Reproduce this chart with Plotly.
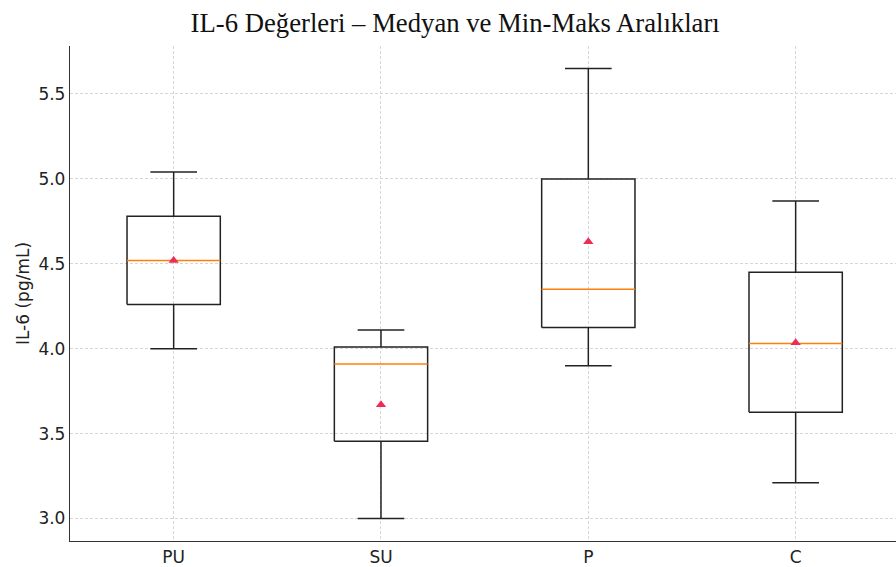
import plotly.graph_objects as go

groups = ["PU", "SU", "P", "C"]
positions = [1, 2, 3, 4]
mins = [4.00, 3.00, 3.90, 3.21]
q1s = [4.26, 3.455, 4.125, 3.625]
medians = [4.52, 3.91, 4.35, 4.03]
q3s = [4.78, 4.01, 5.00, 4.45]
maxs = [5.04, 4.11, 5.65, 4.87]
means = [4.52, 3.67, 4.63, 4.035]
y_ticks = [3.0, 3.5, 4.0, 4.5, 5.0, 5.5]

box_w = 0.45
cap_w = box_w / 2
edge = "#222222"
lw = 1.5

fig = go.Figure()


def seg(xs, ys, color=edge, width=lw):
    fig.add_trace(go.Scatter(x=xs, y=ys, mode="lines",
                             line=dict(color=color, width=width),
                             showlegend=False, hoverinfo="skip"))


for i, g in enumerate(groups):
    x = positions[i]
    l, r = x - box_w / 2, x + box_w / 2
    seg([l, r, r, l, l], [q1s[i], q1s[i], q3s[i], q3s[i], q1s[i]])
    seg([x, x], [q1s[i], mins[i]])
    seg([x, x], [q3s[i], maxs[i]])
    seg([x - cap_w / 2, x + cap_w / 2], [mins[i], mins[i]])
    seg([x - cap_w / 2, x + cap_w / 2], [maxs[i], maxs[i]])
    seg([l, r], [medians[i], medians[i]], color="#ff7f0e", width=1.5)

fig.add_trace(go.Scatter(
    x=positions, y=means, mode="markers",
    marker=dict(symbol="triangle-up", size=9, color="#ee2d55"),
    showlegend=False, hoverinfo="skip"))

grid = "#d6d6d6"
fig.update_layout(
    width=896, height=567,
    margin=dict(l=70, r=0, t=46, b=26),
    paper_bgcolor="white", plot_bgcolor="white",
    title=dict(text="IL-6 Değerleri – Medyan ve Min-Maks Aralıkları",
               font=dict(family="Liberation Serif", size=26.7, color="#111"),
               x=0.508, xanchor="center", y=0.96, yanchor="middle", xref="container", yref="container"),
    font=dict(family="DejaVu Sans", size=17, color="#333"),
)
fig.update_xaxes(
    range=[0.5, 4.484], tickvals=positions, ticktext=groups,
    showgrid=True, gridcolor=grid, griddash="3px,2px", gridwidth=0.8,
    showline=True, linecolor="#333", linewidth=1.3, mirror=False,
    ticks="", zeroline=False,
    tickfont=dict(family="DejaVu Sans", size=17, color="#222"),
)
fig.update_yaxes(
    range=[2.8675, 5.7825], tickvals=y_ticks, tickformat=".1f",
    showgrid=True, gridcolor=grid, griddash="3px,2px", gridwidth=0.8,
    showline=True, linecolor="#333", linewidth=1.3, mirror=False,
    ticks="", zeroline=False,
    title=dict(text="IL-6 (pg/mL)", font=dict(family="DejaVu Sans", size=17, color="#222"), standoff=4),
    tickfont=dict(family="DejaVu Sans", size=17, color="#222"),
)

fig.write_html("out.html")
